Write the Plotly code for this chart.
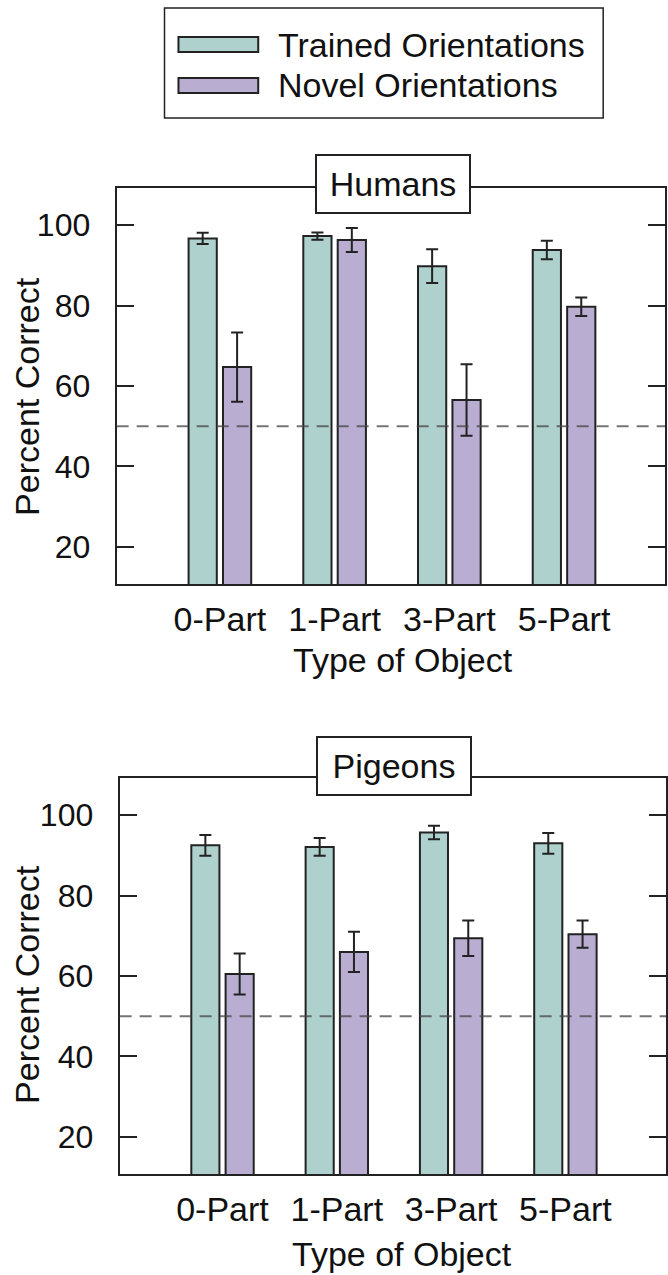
import plotly.graph_objects as go

categories = ["0-Part", "1-Part", "3-Part", "5-Part"]
series_names = ["Trained Orientations", "Novel Orientations"]

humans_trained = [96.7, 97.3, 89.8, 93.8]
humans_trained_err = [1.4, 0.9, 4.2, 2.3]
humans_novel = [64.7, 96.3, 56.5, 79.7]
humans_novel_err = [8.6, 3.0, 8.9, 2.3]

pigeons_trained = [92.5, 92.1, 95.7, 93.0]
pigeons_trained_err = [2.6, 2.2, 1.7, 2.6]
pigeons_novel = [60.5, 66.0, 69.4, 70.4]
pigeons_novel_err = [5.1, 5.0, 4.4, 3.4]

chance_level = 50
y_ticks = [20, 40, 60, 80, 100]
panel_titles = ["Humans", "Pigeons"]
x_title = "Type of Object"
y_title = "Percent Correct"

W, H = 668, 1275
TEAL = "#aed1cd"
PURPLE = "#b9aed1"
INK = "#222222"
FONT = "Liberation Sans, Arial, sans-serif"


def px(x):
    return x / W


def py(y):
    return (H - y) / H


fig = go.Figure()

panels = [
    (humans_trained, humans_trained_err, humans_novel, humans_novel_err, "x", "y"),
    (pigeons_trained, pigeons_trained_err, pigeons_novel, pigeons_novel_err, "x2", "y2"),
]
for vals_t, err_t, vals_n, err_n, xa, ya in panels:
    for name, vals, errs, color in [
        (series_names[0], vals_t, err_t, TEAL),
        (series_names[1], vals_n, err_n, PURPLE),
    ]:
        fig.add_trace(go.Bar(
            x=categories, y=vals, name=name, xaxis=xa, yaxis=ya,
            marker=dict(color=color, line=dict(color=INK, width=2)),
            error_y=dict(type="data", array=errs, color=INK, thickness=2, width=6),
            showlegend=False,
        ))

axis_common_x = dict(
    range=[-0.9, 3.88], showline=True, mirror=True, linecolor=INK, linewidth=2,
    ticks="", showgrid=False, zeroline=False, ticklabelstandoff=4,
    tickfont=dict(family=FONT, size=34, color="#111"),
)
axis_common_y = dict(
    range=[10.75, 109.25], tickvals=y_ticks, showline=True, mirror="ticks",
    linecolor=INK, linewidth=2, ticks="inside", ticklen=17, tickwidth=2,
    tickcolor=INK, showgrid=False, zeroline=False, ticklabelstandoff=18,
    tickfont=dict(family=FONT, size=32, color="#111"),
)

fig.update_layout(
    width=W, height=H, autosize=False,
    margin=dict(l=0, r=0, t=0, b=0),
    paper_bgcolor="white", plot_bgcolor="white",
    barmode="group", bargap=0.4, bargroupgap=0.18,
    showlegend=False,
    xaxis=dict(domain=[px(117), px(667)], anchor="y", **axis_common_x),
    yaxis=dict(domain=[py(584), py(188)], anchor="x", **axis_common_y),
    xaxis2=dict(domain=[px(120), 1.0], anchor="y2", **axis_common_x),
    yaxis2=dict(domain=[py(1174), py(778)], anchor="x2", **axis_common_y),
)

# chance lines
for xa, ya in [("x", "y"), ("x2", "y2")]:
    fig.add_shape(type="line", xref=f"{xa} domain", yref=ya, x0=0, x1=1,
                  y0=chance_level, y1=chance_level, layer="above",
                  line=dict(color="rgba(70,70,70,0.75)", width=2, dash="12px,8px"))

# panel titles
for title, cx, cy in [(panel_titles[0], 394, 184), (panel_titles[1], 395, 766)]:
    fig.add_annotation(text=title, xref="paper", yref="paper", x=px(cx), y=py(cy),
                       xanchor="center", yanchor="middle", showarrow=False,
                       width=150, height=54, bgcolor="white", bordercolor=INK,
                       borderwidth=2, font=dict(family=FONT, size=34, color="#111"))

# axis titles
for cy in [396, 984]:
    fig.add_annotation(text=y_title, xref="paper", yref="paper", x=px(27), y=py(cy),
                       xanchor="center", yanchor="middle", textangle=-90, showarrow=False,
                       font=dict(family=FONT, size=34, color="#111"))
for cx, cy in [(404, 660), (403, 1254)]:
    fig.add_annotation(text=x_title, xref="paper", yref="paper", x=px(cx), y=py(cy),
                       xanchor="center", yanchor="middle", showarrow=False,
                       font=dict(family=FONT, size=34, color="#111"))

# legend (drawn manually)
fig.add_shape(type="rect", xref="paper", yref="paper", x0=px(165), x1=px(605),
              y0=py(118), y1=py(8), line=dict(color=INK, width=1.5), fillcolor="white",
              layer="below")
for name, color, cy in [(series_names[0], TEAL, 44.5), (series_names[1], PURPLE, 85.5)]:
    fig.add_shape(type="rect", xref="paper", yref="paper", x0=px(179), x1=px(259),
                  y0=py(cy + 7.5), y1=py(cy - 7.5), line=dict(color=INK, width=2),
                  fillcolor=color)
    fig.add_annotation(text=name, xref="paper", yref="paper", x=px(277), y=py(cy),
                       xanchor="left", yanchor="middle", showarrow=False,
                       font=dict(family=FONT, size=34, color="#111"))

fig.write_html("out.html", config={"displayModeBar": False},
               post_script="document.body.style.margin='0px';")
